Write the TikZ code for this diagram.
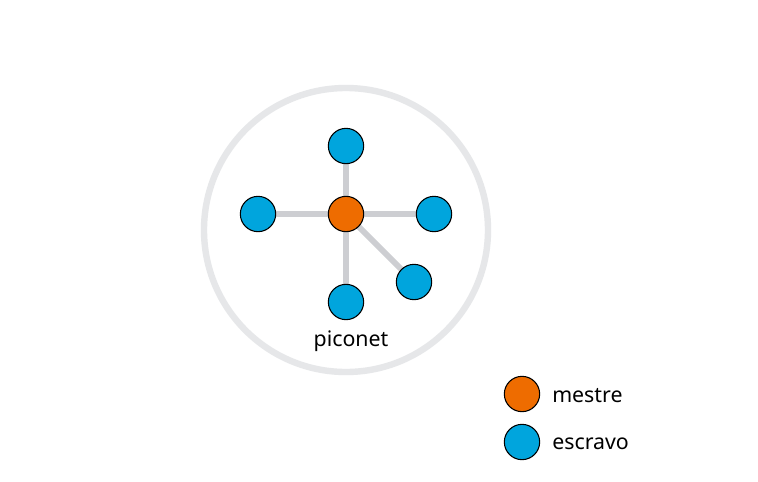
\documentclass[tikz,border=0pt]{standalone}
\usepackage{fontspec}
\setmainfont{Noto Sans}
\definecolor{ring}{HTML}{E6E7E9}
\definecolor{link}{HTML}{CDCED2}
\definecolor{master}{HTML}{EE6C00}
\definecolor{slave}{HTML}{00A5DD}
\begin{document}
\begin{tikzpicture}[x=0.75pt,y=-0.75pt,
  dev/.style={circle,draw=black,line width=0.8pt,minimum size=26.5pt,inner sep=0pt},
  mst/.style={dev,fill=master},
  slv/.style={dev,fill=slave},
  lnk/.style={draw=link,line width=4.5pt},
  lbl/.style={font=\fontsize{16}{19}\selectfont,inner sep=0pt}]
\useasboundingbox (0,0) rectangle (758,482);
\fill[white] (0,0) rectangle (758,482);
\node[circle,draw=ring,line width=4.8pt,minimum size=213pt,inner sep=0pt] (piconet) at (346,230) {};
\coordinate (c) at (346,214);
\coordinate (t) at (346,146);
\coordinate (l) at (258,214);
\coordinate (r) at (434,214);
\coordinate (b) at (346,302);
\coordinate (br) at (414,282);
\draw[lnk] (c) -- (t);
\draw[lnk] (c) -- (l);
\draw[lnk] (c) -- (r);
\draw[lnk] (c) -- (b);
\draw[lnk] (c) -- (br);
\node[mst] (m) at (c) {};
\node[slv] (s1) at (t) {};
\node[slv] (s2) at (l) {};
\node[slv] (s3) at (r) {};
\node[slv] (s4) at (b) {};
\node[slv] (s5) at (br) {};
\node[lbl] (pl) at (351,341) {piconet};
\node[lbl,anchor=west] (tm) at (552,396) {mestre};
\node[lbl,anchor=west] (ts) at (552,444) {escravo};
\node[mst] (lm) at (522,394) {};
\node[slv] (ls) at (522,442) {};
\end{tikzpicture}
\end{document}
